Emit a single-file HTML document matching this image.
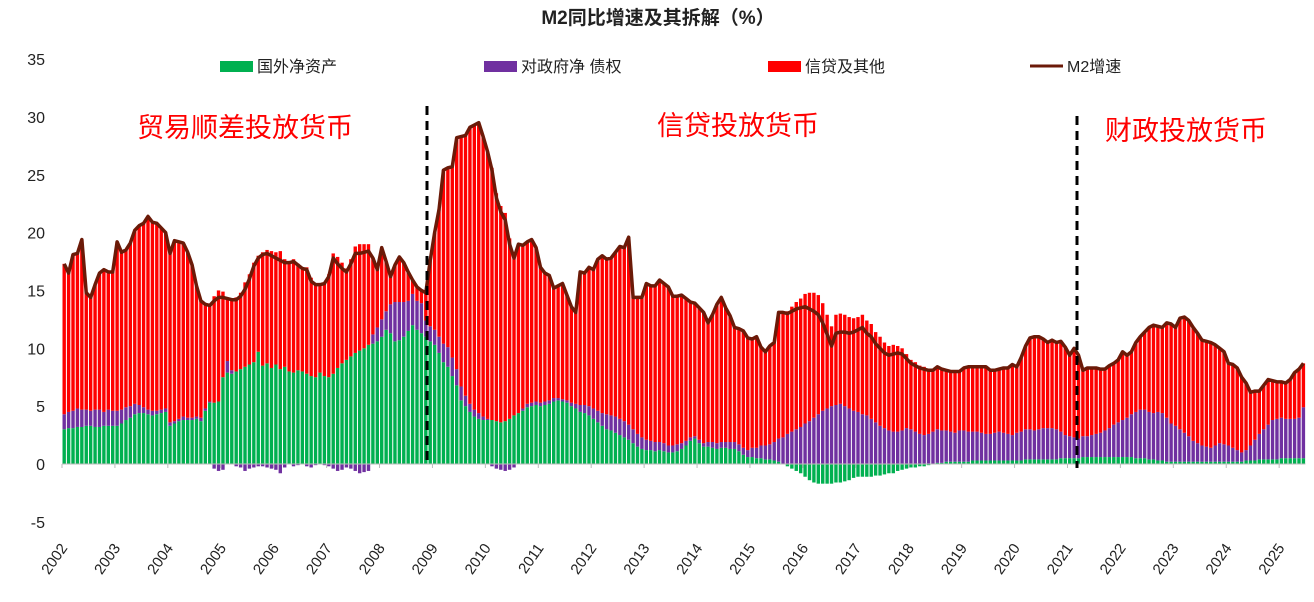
<!DOCTYPE html>
<html><head><meta charset="utf-8">
<style>
html,body{margin:0;padding:0;background:#fff;}
body{width:1314px;height:597px;overflow:hidden;font-family:"Liberation Sans","Noto Sans CJK SC",sans-serif;}
svg text{font-family:"Liberation Sans","Noto Sans CJK SC",sans-serif;}
</style></head>
<body>
<svg id="chart" width="1314" height="597" xmlns="http://www.w3.org/2000/svg">
<text x="658" y="24" text-anchor="middle" font-size="19" font-weight="bold" fill="#222">M2同比增速及其拆解（%）</text>
<g font-size="16" fill="#222">
 <rect x="220" y="61" width="33" height="11" fill="#00B050"/>
 <text x="257" y="72">国外净资产</text>
 <rect x="484" y="61" width="33" height="11" fill="#7030A0"/>
 <text x="521" y="72">对政府净 债权</text>
 <rect x="768" y="61" width="33" height="11" fill="#FF0000"/>
 <text x="805" y="72">信贷及其他</text>
 <line x1="1030" y1="66" x2="1063" y2="66" stroke="#6B1A08" stroke-width="3"/>
 <text x="1067" y="72">M2增速</text>
</g>
<g id="yaxis"></g>
<g id="bars"></g>
<g id="xaxis"></g>
<path id="m2line" fill="none" stroke="#6B1A08" stroke-width="3.5" stroke-linejoin="round"/>
<line x1="427" y1="106" x2="427" y2="466" stroke="#000" stroke-width="3" stroke-dasharray="9,6"/>
<line x1="1077" y1="116" x2="1077" y2="468" stroke="#000" stroke-width="3" stroke-dasharray="9,6"/>
<g font-size="27" fill="#FF0000">
 <text x="137" y="137">贸易顺差投放货币</text>
 <text x="657" y="135">信贷投放货币</text>
 <text x="1105" y="140">财政投放货币</text>
</g>
</svg>
<script>
const years = ["2002","2003","2004","2005","2006","2007","2008","2009","2010","2011","2012","2013","2014","2015","2016","2017","2018","2019","2020","2021","2022","2023","2024","2025"];
const yTicks = [35,30,25,20,15,10,5,0,-5];
const m2 = [
17.3,16.5,18.1,18.2,19.4,14.8,14.4,15.5,16.5,16.8,16.6,16.6,
19.2,18.3,18.5,19.1,20.2,20.6,20.8,21.4,20.9,20.8,20.4,20.0,
18.2,19.3,19.2,19.1,18.3,17.2,15.4,14.1,13.8,13.7,14.1,14.4,
14.4,14.3,14.2,14.2,14.5,15.1,16.0,17.1,17.8,18.1,18.2,18.0,
17.8,17.6,17.4,17.4,17.5,17.2,16.9,16.8,15.8,15.5,15.5,15.6,
16.2,17.8,17.3,16.9,16.6,17.3,18.2,18.2,18.3,18.4,17.8,16.8,
18.7,17.5,16.2,17.2,17.9,17.4,16.6,15.9,15.3,15.0,14.8,17.6,
20.0,22.0,25.4,25.6,25.7,28.2,28.3,28.4,29.1,29.3,29.5,28.3,
27.0,25.4,23.0,21.8,21.1,19.0,17.8,19.0,18.9,19.2,19.4,18.7,
17.0,16.5,16.3,15.2,15.4,15.6,14.6,13.6,13.1,16.6,16.5,17.0,
16.8,17.7,18.0,17.7,17.8,18.3,18.8,18.7,19.6,14.4,14.4,14.4,
15.6,15.4,15.4,15.9,15.6,15.3,14.5,14.5,14.6,14.3,14.0,13.9,
13.5,13.1,12.2,12.9,13.8,14.4,13.5,12.8,11.8,11.7,11.5,10.9,
10.8,11.0,10.1,9.7,10.2,10.5,13.1,13.1,13.0,13.2,13.4,13.5,
13.6,13.4,13.2,12.9,12.2,11.2,10.2,11.3,11.4,11.4,11.3,11.4,
11.6,11.8,11.3,11.0,10.4,10.0,9.6,9.4,9.5,9.6,9.5,9.1,
8.7,8.5,8.3,8.2,8.1,8.1,8.4,8.2,8.1,8.0,8.0,8.0,
8.3,8.4,8.4,8.4,8.4,8.4,8.1,8.1,8.2,8.3,8.3,8.6,
8.4,9.2,10.2,10.9,11.0,11.0,10.8,10.5,10.7,10.5,10.6,10.1,
9.4,10.0,9.4,8.1,8.3,8.3,8.3,8.2,8.2,8.5,8.7,9.0,
9.7,9.4,9.7,10.5,11.0,11.4,11.8,12.0,11.9,11.8,12.2,12.1,
11.8,12.6,12.7,12.4,11.8,11.3,10.7,10.6,10.5,10.3,10.0,9.7,
8.7,8.6,8.3,7.5,7.0,6.2,6.3,6.3,6.8,7.3,7.2,7.1,
7.1,7.0,7.3,7.9,8.2,8.7];
const foreignAssets = [
3.0,3.1,3.1,3.2,3.2,3.3,3.3,3.2,3.2,3.3,3.3,3.3,
3.3,3.5,3.8,4.0,4.3,4.4,4.4,4.3,4.2,4.3,4.4,4.5,
3.3,3.5,3.7,3.8,3.8,3.8,3.9,3.7,4.6,5.3,5.3,5.4,
7.5,7.9,7.8,8.0,8.2,8.4,8.6,8.8,9.7,8.5,8.7,8.3,
8.6,8.2,8.4,8.0,7.9,8.1,8.0,7.8,7.6,7.5,7.9,7.6,
7.5,7.8,8.3,8.7,9.0,9.3,9.6,9.8,10.0,10.3,10.4,10.6,
11.0,11.6,11.3,10.6,10.7,11.0,11.5,12.0,11.6,11.3,11.0,10.6,
10.3,9.6,8.8,8.4,7.6,6.8,5.5,5.0,4.5,4.1,3.9,3.8,
3.8,3.8,3.7,3.6,3.7,3.9,4.2,4.4,4.6,4.9,5.0,5.1,
5.0,5.1,5.2,5.4,5.5,5.4,5.3,5.0,4.8,4.5,4.4,4.2,
3.9,3.6,3.3,3.0,2.9,2.7,2.5,2.3,2.1,1.8,1.5,1.3,
1.2,1.2,1.1,1.2,1.1,1.0,1.0,1.1,1.3,1.6,2.0,2.2,
1.8,1.5,1.5,1.4,1.3,1.4,1.4,1.3,1.3,1.1,0.8,0.6,
0.6,0.5,0.5,0.4,0.4,0.3,0.2,0.0,-0.2,-0.4,-0.6,-0.8,
-1.1,-1.4,-1.6,-1.7,-1.7,-1.7,-1.7,-1.6,-1.6,-1.5,-1.4,-1.2,
-1.1,-1.1,-1.1,-1.1,-1.0,-1.0,-0.9,-0.8,-0.8,-0.6,-0.5,-0.4,
-0.3,-0.3,-0.2,-0.2,-0.1,0.0,0.1,0.1,0.2,0.2,0.2,0.2,
0.2,0.2,0.3,0.3,0.3,0.3,0.3,0.3,0.3,0.3,0.3,0.3,
0.3,0.3,0.4,0.4,0.4,0.4,0.4,0.4,0.4,0.4,0.5,0.5,
0.5,0.5,0.5,0.6,0.6,0.6,0.6,0.6,0.6,0.6,0.6,0.6,
0.6,0.6,0.6,0.5,0.5,0.5,0.4,0.4,0.3,0.3,0.2,0.2,
0.2,0.2,0.2,0.2,0.2,0.2,0.2,0.2,0.2,0.2,0.2,0.2,
0.2,0.2,0.2,0.2,0.3,0.3,0.3,0.4,0.4,0.4,0.4,0.4,
0.5,0.5,0.5,0.5,0.5,0.5];
const govClaims = [
1.3,1.4,1.5,1.6,1.5,1.4,1.3,1.5,1.5,1.2,1.4,1.3,
1.3,1.2,1.1,1.0,0.9,0.7,0.5,0.4,0.4,0.3,0.3,0.3,
0.3,0.2,0.2,0.3,0.2,0.2,0.2,0.3,0.2,0.1,-0.4,-0.6,
-0.5,1.0,0.3,-0.2,-0.3,-0.6,-0.4,-0.3,-0.2,-0.2,-0.3,-0.4,
-0.5,-0.8,-0.3,0.0,-0.2,-0.1,0.0,-0.2,-0.3,-0.1,0.0,-0.1,
-0.2,-0.4,-0.6,-0.5,-0.3,-0.4,-0.6,-0.8,-0.7,-0.6,0.8,1.2,
1.5,1.6,2.5,3.4,3.3,3.0,2.6,2.7,2.5,2.6,1.4,1.3,
1.3,1.4,1.6,1.7,1.6,1.4,1.2,0.9,0.7,0.6,0.5,0.3,
0.1,-0.2,-0.4,-0.5,-0.6,-0.5,-0.3,0.0,0.2,0.3,0.3,0.3,
0.3,0.3,0.3,0.3,0.2,0.2,0.2,0.3,0.4,0.6,0.7,0.8,
0.9,1.0,1.1,1.3,1.3,1.4,1.4,1.4,1.3,1.2,1.1,1.0,
0.9,0.8,0.8,0.7,0.7,0.6,0.6,0.6,0.5,0.4,0.3,0.2,
0.3,0.3,0.4,0.5,0.5,0.5,0.5,0.6,0.6,0.6,0.6,0.6,
0.8,0.9,1.1,1.2,1.3,1.6,2.0,2.3,2.6,2.8,3.0,3.2,
3.5,3.7,4.0,4.3,4.6,4.8,5.0,5.1,5.2,5.0,4.8,4.6,
4.5,4.3,4.2,3.9,3.6,3.3,3.1,2.9,2.8,2.8,2.9,3.1,
3.0,2.8,2.6,2.5,2.6,2.8,2.9,2.8,2.7,2.6,2.5,2.7,
2.7,2.6,2.5,2.5,2.4,2.3,2.3,2.4,2.5,2.4,2.3,2.2,
2.4,2.5,2.6,2.6,2.5,2.6,2.7,2.7,2.7,2.6,2.3,2.0,
1.9,1.8,1.7,1.8,1.8,1.9,2.0,2.1,2.3,2.5,2.8,3.0,
3.2,3.4,3.7,4.0,4.2,4.2,4.1,4.0,4.2,4.1,3.8,3.3,
3.1,2.8,2.5,2.2,1.8,1.6,1.4,1.3,1.2,1.4,1.6,1.5,
1.4,1.2,1.0,0.8,0.9,1.3,1.8,2.2,2.6,3.0,3.4,3.5,
3.5,3.4,3.4,3.4,3.5,4.4];

const NS = "http://www.w3.org/2000/svg";
const X0 = 62, MONTH = 4.41, Y0 = 464, UNIT = 11.57;
function xScale(i){ return X0 + MONTH * i + 2.2; }
function yScale(v){ return Y0 - v * UNIT; }

const yAxis = document.getElementById('yaxis');
yTicks.forEach(t => {
  const tx = document.createElementNS(NS, 'text');
  
  
  tx.setAttribute('x', 45); tx.setAttribute('y', yScale(t) + 6);
  tx.setAttribute('text-anchor', 'end'); tx.setAttribute('font-size', '16'); tx.setAttribute('fill', '#222');
  tx.textContent = t;
  yAxis.appendChild(tx);
});

const bars = document.getElementById('bars');
function addRect(x, v0, v1, color, name){
  const r = document.createElementNS(NS, 'rect');
  
  
  const ya = yScale(Math.max(v0, v1)), yb = yScale(Math.min(v0, v1));
  r.setAttribute('x', (x - 1.7).toFixed(2)); r.setAttribute('width', 3.4);
  r.setAttribute('y', ya.toFixed(2)); r.setAttribute('height', Math.max(0, yb - ya).toFixed(2));
  r.setAttribute('fill', color);
  bars.appendChild(r);
}
let d = '';
for (let i = 0; i < m2.length; i++){
  const x = xScale(i);
  const parts = [[foreignAssets[i], '#00B050', 'bar-foreign-assets'], [govClaims[i], '#7030A0', 'bar-government-claims'], [m2[i] - foreignAssets[i] - govClaims[i], '#FF0000', 'bar-credit-other']];
  let pos = 0, neg = 0;
  parts.forEach(p => {
    const v = p[0];
    if (v >= 0){ addRect(x, pos, pos + v, p[1], p[2]); pos += v; }
    else { addRect(x, neg, neg + v, p[1], p[2]); neg += v; }
  });
  d += (i ? 'L' : 'M') + x.toFixed(2) + ',' + yScale(m2[i]).toFixed(2);
}
document.getElementById('m2line').setAttribute('d', d);

const xAxis = document.getElementById('xaxis');
const axisLine = document.createElementNS(NS, 'line');


axisLine.setAttribute('x1', X0); axisLine.setAttribute('x2', xScale(m2.length - 1) + 2);
axisLine.setAttribute('y1', Y0); axisLine.setAttribute('y2', Y0);
axisLine.setAttribute('stroke', '#bbb'); axisLine.setAttribute('stroke-width', '1');
xAxis.appendChild(axisLine);
years.forEach((yr, k) => {
  const x = X0 + k * 12 * MONTH;
  const tk = document.createElementNS(NS, 'line');
  
  
  tk.setAttribute('x1', x); tk.setAttribute('x2', x); tk.setAttribute('y1', Y0); tk.setAttribute('y2', Y0 + 4);
  tk.setAttribute('stroke', '#bbb');
  xAxis.appendChild(tk);
  const tx = document.createElementNS(NS, 'text');
  
  
  tx.setAttribute('x', x + 6); tx.setAttribute('y', 548);
  tx.setAttribute('text-anchor', 'end'); tx.setAttribute('font-size', '15'); tx.setAttribute('fill', '#222');
  tx.setAttribute('transform', 'rotate(-55 ' + (x + 6) + ' 548)');
  tx.textContent = yr;
  xAxis.appendChild(tx);
});
</script>
</body></html>
